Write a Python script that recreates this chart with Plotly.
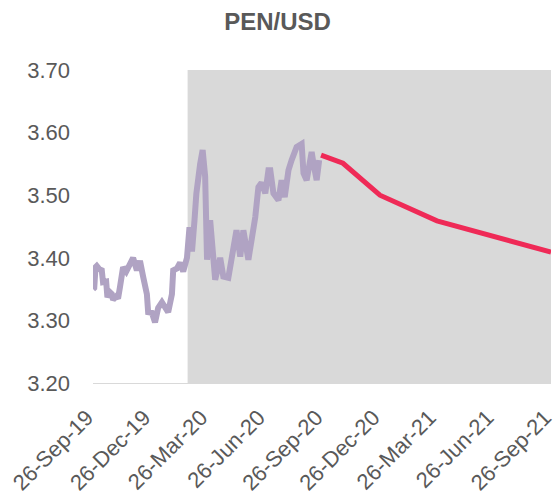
import plotly.graph_objects as go

# Historical PEN/USD
hist_dates = [
    "2019-09-26", "2019-09-28", "2019-09-30", "2019-10-02", "2019-10-06", "2019-10-10", "2019-10-12",
    "2019-10-17", "2019-10-19", "2019-10-23", "2019-10-26", "2019-10-28", "2019-11-02", "2019-11-05",
    "2019-11-08", "2019-11-11", "2019-11-13", "2019-11-18", "2019-11-24", "2019-11-29", "2019-12-05",
    "2019-12-10", "2019-12-15", "2019-12-21", "2019-12-23", "2019-12-29", "2020-01-03", "2020-01-08",
    "2020-01-14", "2020-01-19", "2020-01-24", "2020-01-30", "2020-02-01", "2020-02-07", "2020-02-12",
    "2020-02-17", "2020-02-23", "2020-02-27", "2020-03-02", "2020-03-06", "2020-03-09", "2020-03-15",
    "2020-03-19", "2020-03-23", "2020-03-26", "2020-03-31", "2020-04-04", "2020-04-08", "2020-04-16",
    "2020-04-21", "2020-04-29", "2020-05-06", "2020-05-12", "2020-05-18", "2020-05-23", "2020-05-31",
    "2020-06-05", "2020-06-11", "2020-06-16", "2020-06-21", "2020-06-27", "2020-07-02", "2020-07-05",
    "2020-07-10", "2020-07-18", "2020-07-23", "2020-07-28", "2020-08-03", "2020-08-08", "2020-08-16",
    "2020-08-24", "2020-08-27", "2020-09-01", "2020-09-06", "2020-09-09", "2020-09-12", "2020-09-17",
    "2020-09-21",
]
hist_values = [
    3.350, 3.352, 3.385, 3.387, 3.382, 3.380, 3.361,
    3.362, 3.337, 3.345, 3.342, 3.333, 3.338, 3.335,
    3.353, 3.370, 3.385, 3.378, 3.389, 3.400, 3.380,
    3.395, 3.370, 3.342, 3.313, 3.312, 3.297, 3.320,
    3.329, 3.320, 3.313, 3.342, 3.380, 3.383, 3.392,
    3.378, 3.400, 3.449, 3.410, 3.460, 3.503, 3.550,
    3.572, 3.530, 3.397, 3.460, 3.397, 3.365, 3.400,
    3.370, 3.368, 3.404, 3.444, 3.402, 3.444, 3.397,
    3.427, 3.465, 3.513, 3.520, 3.503, 3.540, 3.540,
    3.503, 3.492, 3.524, 3.497, 3.540, 3.556, 3.577,
    3.582, 3.535, 3.524, 3.556, 3.569, 3.550, 3.524,
    3.556,
]

# Forecast path
fc_dates = ["2020-09-24", "2020-10-29", "2020-12-27", "2021-03-28", "2021-09-26"]
fc_values = [3.564, 3.551, 3.500, 3.459, 3.409]

# Shaded period
shade_start = "2020-02-24"
shade_end = "2021-09-26"

# Axis ticks
x_start = "2019-09-26"
x_end = "2021-09-26"
x_tickvals = ["2019-09-26", "2019-12-26", "2020-03-26", "2020-06-26", "2020-09-26",
              "2020-12-26", "2021-03-26", "2021-06-26", "2021-09-26"]
x_ticktext = ["26-Sep-19", "26-Dec-19", "26-Mar-20", "26-Jun-20", "26-Sep-20",
              "26-Dec-20", "26-Mar-21", "26-Jun-21", "26-Sep-21"]
y_tickvals = [3.20, 3.30, 3.40, 3.50, 3.60, 3.70]
y_ticktext = ["3.20", "3.30", "3.40", "3.50", "3.60", "3.70"]

fig = go.Figure()
fig.add_trace(go.Scatter(x=hist_dates, y=hist_values, mode="lines",
                         line=dict(color="#b0a3c3", width=6), showlegend=False))
fig.add_trace(go.Scatter(x=fc_dates, y=fc_values, mode="lines",
                         line=dict(color="#ef2a57", width=5), showlegend=False))

fig.add_shape(type="rect", xref="x", yref="paper", x0=shade_start, x1=shade_end,
              y0=0, y1=1, fillcolor="#d9d9d9", line=dict(width=0), layer="below")

fig.update_layout(
    width=555, height=495,
    margin=dict(l=93, r=4, t=70, b=112, autoexpand=False),
    paper_bgcolor="white", plot_bgcolor="white",
    font=dict(family="Liberation Sans, Arial, sans-serif", color="#595959"),
    title=dict(text="<b>PEN/USD</b>", x=0.5, xref="container", xanchor="center",
               y=0.957, yref="container", yanchor="middle",
               font=dict(size=24, color="#595959")),
    xaxis=dict(type="date", range=[x_start, x_end], automargin=False,
               tickvals=x_tickvals, ticktext=x_ticktext, tickangle=-45,
               tickfont=dict(size=22, color="#595959"),
               ticklabelstandoff=12, ticklabelshift=-6, ticklabeloverflow="allow",
               showgrid=False, zeroline=False, showline=True,
               linecolor="#d9d9d9", linewidth=1, ticks=""),
    yaxis=dict(range=[3.20, 3.70], tickvals=y_tickvals, ticktext=y_ticktext, automargin=False,
               tickfont=dict(size=22, color="#595959"),
               showgrid=False, zeroline=False, showline=False, ticks="",
               ticklabelstandoff=22),
)

fig.write_html(
    "out.html",
    config={"displayModeBar": False},
    post_script="document.body.style.margin='0';document.body.style.overflow='hidden';",
)
